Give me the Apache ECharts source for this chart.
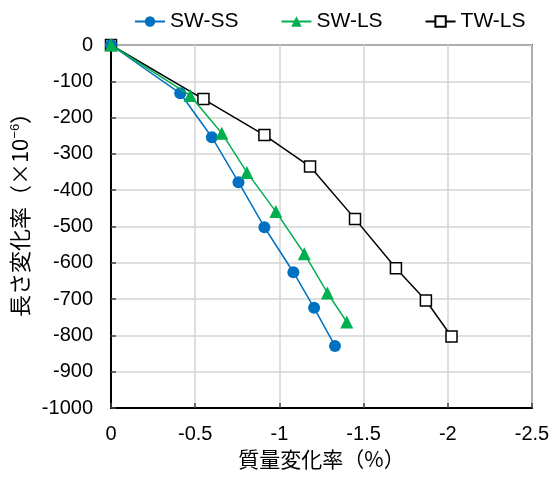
<!DOCTYPE html>
<html>
<head>
<meta charset="utf-8">
<script src="https://cdn.jsdelivr.net/npm/echarts@6/dist/echarts.min.js"></script>
<style>
  html, body { margin: 0; padding: 0; background: #fff; }
  #chart { width: 560px; height: 477px; }
</style>
</head>
<body>
<div id="chart"></div>
<script>
// Mass change (%) vs. length change (×10^-6) for three specimen types
const seriesNames = ['SW-SS', 'SW-LS', 'TW-LS'];

const swssMass   = [0, -0.411, -0.599, -0.757, -0.911, -1.083, -1.206, -1.330];
const swssLength = [0, -133, -254, -378, -502, -626, -724, -829];

const swlsMass   = [0, -0.470, -0.658, -0.807, -0.979, -1.148, -1.285, -1.400];
const swlsLength = [0, -139, -243, -351, -459, -575, -683, -763];

const twlsMass   = [0, -0.549, -0.911, -1.182, -1.449, -1.692, -1.870, -2.022];
const twlsLength = [0, -149, -248, -335, -479, -615, -704, -803];

const xTicks = { min: -2.5, max: 0, interval: 0.5 };
const yTicks = { min: -1000, max: 0, interval: 100 };

const latin = "'Liberation Sans', Arial, 'Noto Sans CJK JP', sans-serif";
const cjk = "'Noto Sans CJK JP', 'Liberation Sans', sans-serif";

function pairs(xs, ys) {
  return xs.map((x, i) => [x, ys[i]]);
}

// plain number text, no thousands separator
function plain(v) {
  return String(Math.round(v * 1000) / 1000);
}

const chart = echarts.init(document.getElementById('chart'), null, { renderer: 'canvas' });

chart.setOption({
  animation: false,
  backgroundColor: '#ffffff',
  textStyle: { fontFamily: latin },
  legend: {
    top: 6,
    left: 129,
    itemWidth: 30,
    itemHeight: 13,
    itemGap: 42,
    textStyle: { fontSize: 21, color: '#000', fontFamily: latin },
    data: seriesNames
  },
  grid: {
    left: 111,
    right: 28,
    top: 45,
    bottom: 69,
    show: true,
    borderColor: '#000',
    borderWidth: 1.5,
    backgroundColor: 'transparent'
  },
  xAxis: {
    type: 'value',
    inverse: true,
    min: xTicks.min,
    max: xTicks.max,
    interval: xTicks.interval,
    name: '質量変化率（%）',
    nameLocation: 'middle',
    nameGap: 41,
    nameTextStyle: { fontSize: 21, color: '#000', fontFamily: cjk },
    axisLine: { show: true, onZero: false, lineStyle: { color: '#000', width: 2 } },
    axisTick: { show: true, inside: true, length: 5, lineStyle: { color: '#444', width: 1.5 } },
    axisLabel: { fontSize: 20, color: '#000', margin: 16, fontFamily: latin, formatter: plain },
    splitLine: { show: true, lineStyle: { color: '#d4d4d4', width: 1.5 } }
  },
  yAxis: {
    type: 'value',
    min: yTicks.min,
    max: yTicks.max,
    interval: yTicks.interval,
    name: '長さ変化率（×10{sup|−6}）',
    nameLocation: 'middle',
    nameGap: 74,
    nameRotate: 90,
    nameTextStyle: {
      fontSize: 22,
      color: '#000',
      fontFamily: cjk,
      padding: [0, 0, 0, 34],
      rich: {
        sup: { fontSize: 13, color: '#000', fontFamily: latin, verticalAlign: 'top', padding: [0, 0, 10, 0] }
      }
    },
    axisLine: { show: true, onZero: false, lineStyle: { color: '#000', width: 2 } },
    axisTick: { show: true, inside: true, length: 5, lineStyle: { color: '#444', width: 1.5 } },
    axisLabel: { fontSize: 20, color: '#000', margin: 18, fontFamily: latin, formatter: plain },
    splitLine: { show: true, lineStyle: { color: '#d4d4d4', width: 1.5 } }
  },
  series: [
    {
      name: 'SW-SS',
      type: 'line',
      z: 3,
      data: pairs(swssMass, swssLength),
      symbol: 'circle',
      symbolSize: 12,
      itemStyle: { color: '#0070C0', borderColor: '#0070C0', borderWidth: 0 },
      lineStyle: { color: '#0070C0', width: 1.5 }
    },
    {
      name: 'SW-LS',
      type: 'line',
      z: 4,
      data: pairs(swlsMass, swlsLength),
      symbol: 'triangle',
      symbolSize: 13,
      itemStyle: { color: '#00B050', borderColor: '#00B050', borderWidth: 0 },
      lineStyle: { color: '#00B050', width: 1.5 }
    },
    {
      name: 'TW-LS',
      type: 'line',
      z: 2,
      data: pairs(twlsMass, twlsLength),
      symbol: 'rect',
      symbolSize: 11,
      itemStyle: { color: '#ffffff', borderColor: '#000', borderWidth: 1.5 },
      lineStyle: { color: '#000', width: 1.5 }
    }
  ]
});
</script>
</body>
</html>
